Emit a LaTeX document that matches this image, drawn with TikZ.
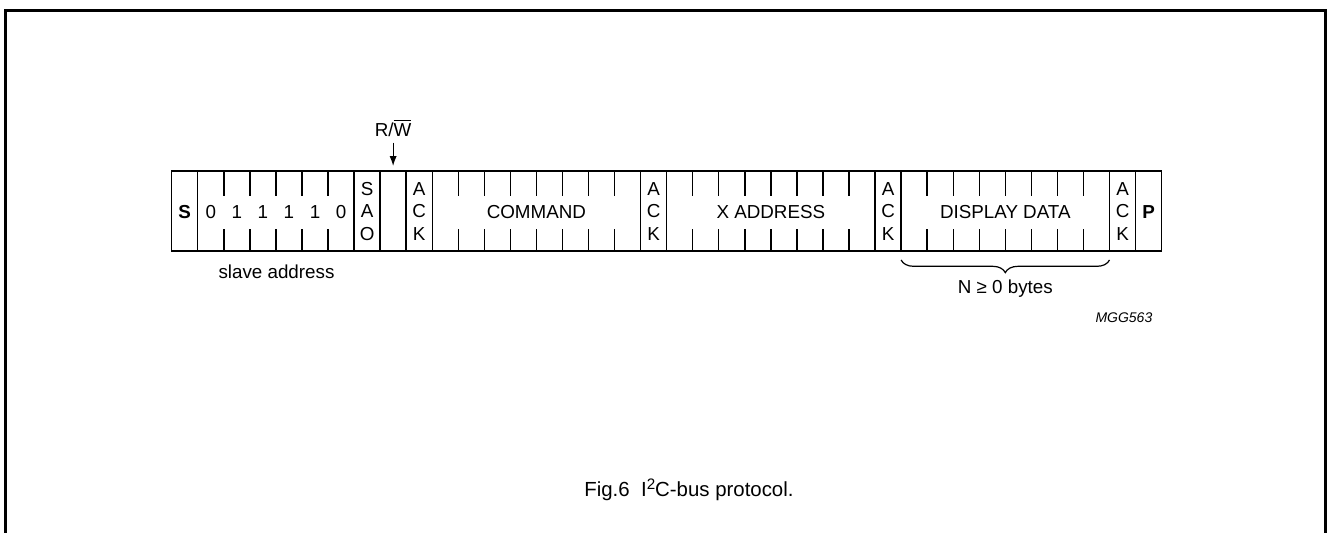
\documentclass[tikz,border=0pt]{standalone}
\usepackage{fontspec}
\setmainfont{Liberation Sans}
\usetikzlibrary{arrows.meta,decorations.pathreplacing}

\tikzset{
  lbl/.style={font=\fontsize{9.4}{11.35}\selectfont, inner sep=0pt},
  stack/.style={lbl, align=center},
  bitline/.style={line width=0.7pt},
}

\begin{document}
\begin{tikzpicture}[x=0.5pt, y=-0.5pt, >={Latex[length=5pt,width=3.6pt]}]
  \useasboundingbox (0,0) rectangle (1327,532);
  \clip (0,0) rectangle (1327,532);
  \def\xo{171.7}
  \def\cw{26.05}
  % outer frame
  \draw[line width=1.1pt] (5.5,10.5) rectangle (1325.5,560);
  % the byte row
  \draw[bitline] (\xo,171) rectangle (\xo+38*\cw,251);
  \foreach \i in {1,7,8,9,10,18,19,27,28,36,37}
    \draw[bitline] (\xo+\i*\cw,171) -- ++(0,80);
  \foreach \i in {2,...,6,11,12,...,17,20,21,...,26,29,30,...,35}{
    \draw[bitline] (\xo+\i*\cw,171) -- ++(0,25);
    \draw[bitline] (\xo+\i*\cw,251) -- ++(0,-22);
  }
  % cell texts
  \node[lbl, anchor=base] (start) at (\xo+0.5*\cw,218) {\textbf{S}};
  \foreach \b [count=\k] in {0,1,1,1,1,0}
    \node[lbl, anchor=base] (bit\k) at (\xo+\k*\cw+0.5*\cw,218) {\b};
  \node[stack] (sao) at (\xo+7.5*\cw,211.5) {S\\A\\O};
  \foreach \i in {9,18,27,36}
    \node[stack] (ack\i) at (\xo+\i*\cw+0.5*\cw,211.5) {A\\C\\K};
  \node[lbl, anchor=base] (stop) at (\xo+37.5*\cw,218) {\textbf{P}};
  \node[lbl, anchor=base] (cmd) at (\xo+14*\cw,218) {COMMAND};
  \node[lbl, anchor=base] (xaddr) at (\xo+23*\cw,218) {X ADDRESS};
  \node[lbl, anchor=base] (data) at (\xo+32*\cw,218) {DISPLAY DATA};
  % R/W bit pointer
  \node[lbl, anchor=base] (rw) at (\xo+8.5*\cw,136) {R/$\overline{\hbox{W}}$};
  \coordinate (rwcell) at (\xo+8.5*\cw,166);
  \draw[->, line width=0.6pt] ([yshift=-3pt]rw.south) -- (rwcell);
  % labels under the row
  \node[lbl, anchor=base] (slave) at (276.5,278) {slave address};
  \coordinate (bl) at (\xo+28*\cw,260);
  \coordinate (br) at (\xo+36*\cw,260);
  \draw[line width=0.6pt, decorate, decoration={brace, mirror, amplitude=6.3pt}] (bl) -- (br);
  \node[lbl, anchor=base] (nbytes) at (\xo+32*\cw,293.3) {N ≥ 0 bytes};
  \node[inner sep=0pt, anchor=base east, font=\fontsize{7}{8}\selectfont\itshape] (code) at (1152.7,322) {MGG563};
  % caption
  \node[inner sep=0pt, anchor=base west, font=\fontsize{10.2}{12}\selectfont] (caption) at (584,496.7)
    {Fig.6\hspace{0.556em}I\raisebox{3.6pt}{\fontsize{7.6}{8}\selectfont 2}C-bus protocol.};
\end{tikzpicture}
\end{document}
